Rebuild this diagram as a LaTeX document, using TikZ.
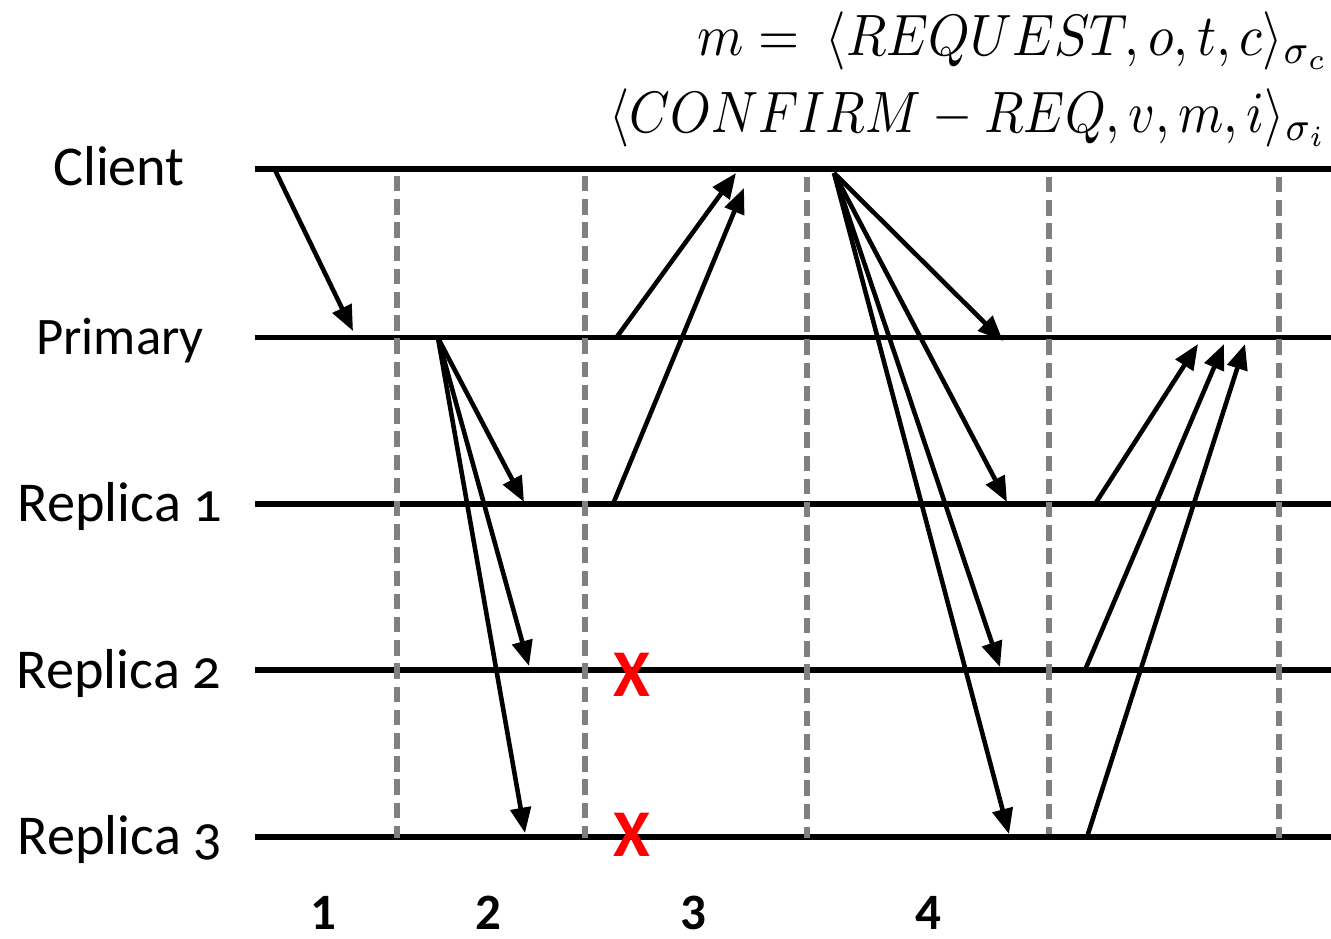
\documentclass[tikz,border=0pt]{standalone}
\usepackage{fontspec}
\setmainfont{Carlito}
\usetikzlibrary{arrows.meta,positioning,calc}

\begin{document}
\begin{tikzpicture}[x=0.01cm, y=-0.01cm, >={Triangle[length=7.2pt,width=5.8pt]}]

\tikzset{
  lane/.style={draw, line width=1.5pt},
  phase/.style={draw=gray, line width=1.45pt, dash pattern=on 4.4pt off 2.2pt},
  msg/.style={->, line width=1.3pt},
  who/.style={anchor=base, inner sep=0pt, font=\fontsize{16}{19}\selectfont},
  formula/.style={anchor=base east, inner sep=0pt, xscale=1.5, yscale=1.66, transform shape},
  stepnum/.style={anchor=base, inner sep=0pt, font=\bfseries\fontsize{14.5}{17}\selectfont},
  lost/.style={inner sep=0pt, text=red, font=\bfseries\fontsize{19}{20}\selectfont}
}

\useasboundingbox (0,0) rectangle (1331,938);

% ==========================
% Formulas (top right)
% ==========================
\node[formula] (req) at (1331,55) {$m =\ \langle REQUEST, o, t, c\rangle_{\sigma_c}$};
\node[formula, xscale=0.98] (conf) at (1329,132) {$\langle CONFIRM - REQ, v, m, i\rangle_{\sigma_i}$};

% ==========================
% Participants and lifelines
% ==========================
\node[who] (client)  at (119,185) {Client};
\node[who, font=\fontsize{15}{18}\selectfont] (primary) at (120,354) {Primary};
\node[who] (rep1)    at (120,521) {Replica \addfontfeatures{Numbers=OldStyle}1};
\node[who] (rep2)    at (119,688) {Replica \addfontfeatures{Numbers=OldStyle}2};
\node[who] (rep3)    at (120,854) {Replica \addfontfeatures{Numbers=OldStyle}3};

\coordinate (clientA)  at (255,169);   \coordinate (clientB)  at (1331,169);
\coordinate (primaryA) at (255,337.5); \coordinate (primaryB) at (1331,337.5);
\coordinate (rep1A)    at (255,504);   \coordinate (rep1B)    at (1331,504);
\coordinate (rep2A)    at (255,670);   \coordinate (rep2B)    at (1331,670);
\coordinate (rep3A)    at (255,837);   \coordinate (rep3B)    at (1331,837);

\draw[lane] (clientA) -- (clientB);
\draw[lane] (primaryA) -- (primaryB);
\draw[lane] (rep1A) -- (rep1B);
\draw[lane] (rep2A) -- (rep2B);
\draw[lane] (rep3A) -- (rep3B);

% ==========================
% Phase separators
% ==========================
\coordinate (sep1T) at (397,176);  \coordinate (sep1B) at (397,838);
\coordinate (sep2T) at (585,176);  \coordinate (sep2B) at (585,838);
\coordinate (sep3T) at (807,177);  \coordinate (sep3B) at (807,838);
\coordinate (sep4T) at (1049,177); \coordinate (sep4B) at (1049,834);
\coordinate (sep5T) at (1279,177); \coordinate (sep5B) at (1279,838);

\draw[phase] (sep1T) -- (sep1B);
\draw[phase] (sep2T) -- (sep2B);
\draw[phase] (sep3T) -- (sep3B);
\draw[phase] (sep4T) -- (sep4B);
\draw[phase] (sep5T) -- (sep5B);

% ==========================
% Phase 1: client -> primary
% ==========================
\coordinate (c1s) at (275,170);
\coordinate (p1e) at (353,331);
\draw[msg] (c1s) -- (p1e);

% ==========================
% Phase 2: primary -> replicas
% ==========================
\coordinate (p2s)  at (438,338);
\coordinate (r1e2) at (524,502);
\coordinate (r2e2) at (529,666);
\coordinate (r3e2) at (525,833);
\draw[msg] (p2s) -- (r1e2);
\draw[msg] (p2s) -- (r2e2);
\draw[msg] (p2s) -- (r3e2);

% ==========================
% Phase 3: replies to client, two replicas lost
% ==========================
\coordinate (p3s)  at (616,338);
\coordinate (c3a)  at (736,173);
\coordinate (r1s3) at (613,504);
\coordinate (c3b)  at (744,188);
\draw[msg] (p3s) -- (c3a);
\draw[msg] (r1s3) -- (c3b);

\node[lost] (x2) at (632,675) {X};
\node[lost] (x3) at (632,835) {X};

% ==========================
% Phase 4: client -> all
% ==========================
\coordinate (c4s)  at (834,173);
\coordinate (p4e)  at (1003,341);
\coordinate (r1e4) at (1007,502);
\coordinate (r2e4) at (1000,667);
\coordinate (r3e4) at (1009,834);
\draw[msg] (c4s) -- (p4e);
\draw[msg] (c4s) -- (r1e4);
\draw[msg] (c4s) -- (r2e4);
\draw[msg] (c4s) -- (r3e4);

% Replicas -> primary
\coordinate (r1s5) at (1095,504);
\coordinate (r2s5) at (1085,670);
\coordinate (r3s5) at (1087,837);
\coordinate (p5a)  at (1198,344);
\coordinate (p5b)  at (1224,344);
\coordinate (p5c)  at (1245,344);
\draw[msg] (r1s5) -- (p5a);
\draw[msg] (r2s5) -- (p5b);
\draw[msg] (r3s5) -- (p5c);

% Phase numbers
\node[stepnum] (n1) at (323,929) {1};
\node[stepnum] (n2) at (488,929) {2};
\node[stepnum] (n3) at (693,929) {3};
\node[stepnum] (n4) at (928,929) {4};
\end{tikzpicture}
\end{document}
